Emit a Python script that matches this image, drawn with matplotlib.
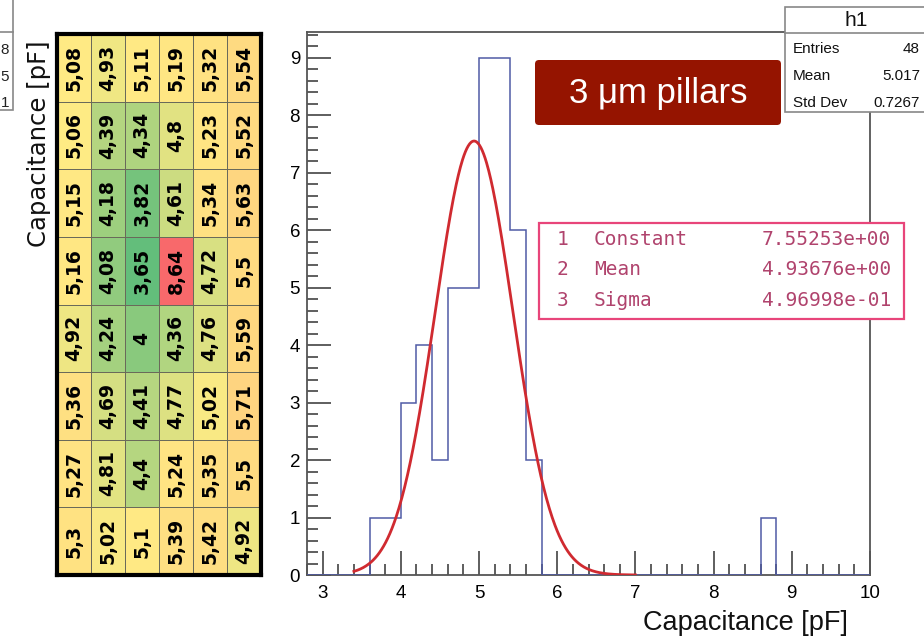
import numpy as np
import matplotlib
matplotlib.use("Agg")
import matplotlib.pyplot as plt
from matplotlib.colors import LinearSegmentedColormap, TwoSlopeNorm
from matplotlib.patches import Rectangle, FancyBboxPatch
from matplotlib.ticker import MultipleLocator

plt.rcParams['font.family'] = ['Liberation Sans', 'DejaVu Sans']

# Capacitance map of the 6 x 8 pad matrix [pF], rows top to bottom
row_1 = [5.08, 4.93, 5.11, 5.19, 5.32, 5.54]
row_2 = [5.06, 4.39, 4.34, 4.80, 5.23, 5.52]
row_3 = [5.15, 4.18, 3.82, 4.61, 5.34, 5.63]
row_4 = [5.16, 4.08, 3.65, 8.64, 4.72, 5.50]
row_5 = [4.92, 4.24, 4.00, 4.36, 4.76, 5.59]
row_6 = [5.36, 4.69, 4.41, 4.77, 5.02, 5.71]
row_7 = [5.27, 4.81, 4.40, 5.24, 5.35, 5.50]
row_8 = [5.30, 5.02, 5.10, 5.39, 5.42, 4.92]

# Histogram binning and Gaussian fit result
bin_lo, bin_hi, n_bins = 2.8, 10.0, 36
fit_constant = 7.55253
fit_mean = 4.93676
fit_sigma = 0.496998
fit_lo, fit_hi = 3.4, 7.0

stats_rows = [("Entries", "48"), ("Mean", "5.017"), ("Std Dev", "0.7267")]
fit_rows = [("1", "Constant", "7.55253e+00"),
            ("2", "Mean", "4.93676e+00"),
            ("3", "Sigma", "4.96998e-01")]

grid = np.array([row_1, row_2, row_3, row_4, row_5, row_6, row_7, row_8])

W, H = 924, 644
fig = plt.figure(figsize=(W / 100, H / 100), dpi=100)


def frect(x0, y0, x1, y1):
    return [x0 / W, 1 - y1 / H, (x1 - x0) / W, (y1 - y0) / H]


# ---- colour-scaled table ----
ax_h = fig.add_axes(frect(57, 34, 261, 575))
cmap = LinearSegmentedColormap.from_list("gyr", ["#63BE7B", "#FFEB84", "#F8696B"])
norm = TwoSlopeNorm(vmin=grid.min(), vcenter=np.median(grid), vmax=grid.max())
ax_h.pcolormesh(np.arange(grid.shape[1] + 1), np.arange(grid.shape[0] + 1), grid,
                cmap=cmap, norm=norm, edgecolors="#6a6a5a", linewidth=0.6)
ax_h.set_xlim(0, grid.shape[1])
ax_h.set_ylim(grid.shape[0], 0)
ax_h.set_xticks([])
ax_h.set_yticks([])
for s in ax_h.spines.values():
    s.set_linewidth(3)
    s.set_color("black")
for i in range(grid.shape[0]):
    for j in range(grid.shape[1]):
        lab = f"{grid[i, j]:g}".replace(".", ",")
        ax_h.text(j + 0.5, i + 0.5, lab, rotation=90, ha="center", va="center",
                  fontsize=13.5, fontweight="bold", family="DejaVu Sans", color="black")

fig.text(39 / W, 1 - 144 / H, "Capacitance [pF]", rotation=90, ha="center",
         va="center", fontsize=17.5, family="DejaVu Sans", color="#111")

# ---- histogram with Gaussian fit ----
values = grid.ravel()
edges = np.round(np.linspace(bin_lo, bin_hi, n_bins + 1), 6)
counts, _ = np.histogram(values, bins=edges)

ax = fig.add_axes(frect(307, 32, 870, 575))
ax.stairs(counts, edges, color="#4f5ba6", linewidth=1.1, zorder=3)
xf = np.linspace(fit_lo, fit_hi, 400)
yf = fit_constant * np.exp(-0.5 * ((xf - fit_mean) / fit_sigma) ** 2)
ax.plot(xf, yf, color="#d02a30", linewidth=2.0, zorder=4)

ax.set_xlim(bin_lo, bin_hi)
ax.set_ylim(0, 9.45)
ax.xaxis.set_major_locator(MultipleLocator(1))
ax.xaxis.set_minor_locator(MultipleLocator(0.2))
ax.yaxis.set_major_locator(MultipleLocator(1))
ax.yaxis.set_minor_locator(MultipleLocator(0.2))
ax.tick_params(which="both", direction="in", top=False, right=False,
               color="#333", width=1.1)
ax.tick_params(which="major", length=17, labelsize=13.5)
ax.tick_params(which="minor", length=8)
ax.tick_params(axis="x", pad=7)
ax.tick_params(axis="y", pad=5)
for s in ax.spines.values():
    s.set_color("#555")
    s.set_linewidth(1.3)

fig.text(848 / W, 1 - 623 / H, "Capacitance [pF]", ha="right", va="center",
         fontsize=19.5, color="#111")

# ---- boxes drawn in pixel space ----
ov = fig.add_axes([0, 0, 1, 1], zorder=10)
ov.set_xlim(0, W)
ov.set_ylim(H, 0)
ov.axis("off")
ov.patch.set_alpha(0)

# partly visible statistics box at the left edge
ov.add_patch(Rectangle((-20, -5), 33, 115, facecolor="white", edgecolor="#888", lw=1.2))
ov.plot([-20, 13], [32, 32], color="#888", lw=1.2)
for k, t in enumerate(["8", "5", "1"]):
    ov.text(9, 50 + 26.5 * k, t, ha="right", va="center", fontsize=11, color="#222")

# h1 statistics box
ov.add_patch(Rectangle((785, 7), 160, 105, facecolor="white", edgecolor="#888", lw=1.2))
ov.plot([785, 924], [33, 33], color="#888", lw=1.2)
ov.text(856, 20, "h1", ha="center", va="center", fontsize=15, color="#111")
for k, (name, val) in enumerate(stats_rows):
    y = 49 + 27 * k
    ov.text(793, y, name, ha="left", va="center", fontsize=11, color="#111")
    ov.text(920, y, val, ha="right", va="center", fontsize=11, color="#111")

# title badge
ov.add_patch(FancyBboxPatch((535, 60), 246, 65,
                            boxstyle="round,pad=0,rounding_size=4",
                            facecolor="#951400", edgecolor="none"))
ov.text(658, 93, "3 μm pillars", ha="center", va="center", fontsize=25, color="white")

# fit parameter box
ov.add_patch(Rectangle((539, 223), 365, 96, facecolor="white",
                       edgecolor="#e8457a", lw=1.6))
for k, (idx, name, val) in enumerate(fit_rows):
    y = 239 + 30.5 * k
    kw = dict(va="center", fontsize=14, color="#b0436d", family="DejaVu Sans Mono")
    ov.text(557, y, idx, ha="left", **kw)
    ov.text(594, y, name, ha="left", **kw)
    ov.text(891, y, val, ha="right", **kw)

fig.savefig("out.png", dpi=100)
